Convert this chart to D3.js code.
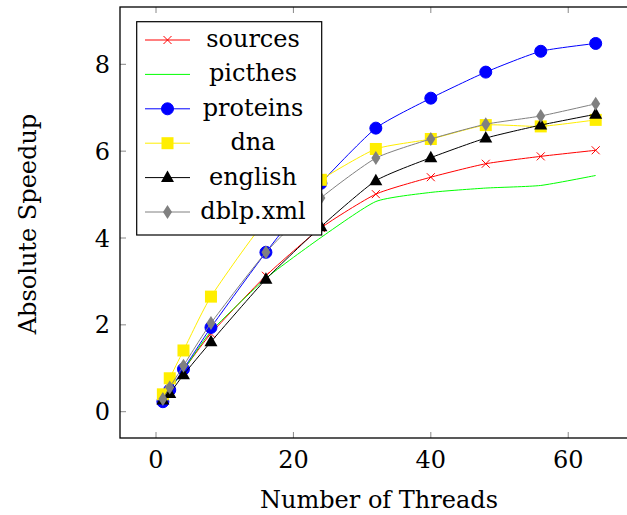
<!DOCTYPE html>
<html><head><meta charset="utf-8">
<script src="https://cdn.jsdelivr.net/npm/d3@7"></script>
<style>body{margin:0;background:#fff}svg{display:block}text{font-family:"DejaVu Serif",serif}</style>
</head><body><svg id="c" width="627" height="515"></svg>
<script>
const threads = [1,2,4,8,16,24,32,40,48,56,64];
const sources  = [0.25,0.50,0.96,1.80,3.13,4.23,5.01,5.40,5.71,5.88,6.02];
const picthes  = [0.26,0.50,0.95,1.85,3.07,4.01,4.84,5.05,5.15,5.21,5.44];
const proteins = [0.23,0.50,0.98,1.94,3.67,5.26,6.53,7.22,7.82,8.30,8.48];
const dna      = [0.40,0.77,1.41,2.65,4.40,5.34,6.05,6.28,6.60,6.57,6.72];
const english  = [0.27,0.42,0.85,1.61,3.05,4.26,5.32,5.85,6.30,6.60,6.85];
const dblp     = [0.29,0.56,1.06,2.04,3.67,4.92,5.84,6.28,6.62,6.81,7.09];
const seriesNames = ["sources","picthes","proteins","dna","english","dblp.xml"];
const seriesData = [sources,picthes,proteins,dna,english,dblp];
const seriesColors = ["#ff0000","#00ff00","#0000ff","#ffee00","#000000","#808080"];
const seriesMarkers = ["x","none","circle","square","triangle","diamond"];
const xTicks = [0,20,40,60];
const yTicks = [0,2,4,6,8];
const xLabel = "Number of Threads";
const yLabel = "Absolute Speedup";

const svg = d3.select("#c");
const L=120, R=640, T=7, B=438;
const x = d3.scaleLinear().domain([0,64]).range([156,595.7]);
const y = d3.scaleLinear().domain([0,8]).range([411.7,64.3]);

// ticks inward (bottom & top, left)
const g = svg.append("g");
const tickCol="#888";
g.selectAll(".xb").data(xTicks).join("line").attr("x1",d=>x(d)).attr("x2",d=>x(d)).attr("y1",B).attr("y2",B-6).attr("stroke",tickCol);
g.selectAll(".xt").data(xTicks).join("line").attr("x1",d=>x(d)).attr("x2",d=>x(d)).attr("y1",T).attr("y2",T+6).attr("stroke",tickCol);
g.selectAll(".yl").data(yTicks).join("line").attr("x1",L).attr("x2",L+6).attr("y1",d=>y(d)).attr("y2",d=>y(d)).attr("stroke",tickCol);
g.selectAll(".xl").data(xTicks).join("text").attr("x",d=>x(d)).attr("y",468).attr("text-anchor","middle").attr("font-size",24).text(d=>d);
g.selectAll(".ylb").data(yTicks).join("text").attr("x",110).attr("y",d=>y(d)+8.5).attr("text-anchor","end").attr("font-size",24).text(d=>d);
svg.append("text").attr("x",379).attr("y",508).attr("text-anchor","middle").attr("font-size",24).text(xLabel);
svg.append("text").attr("transform","translate(36,224) rotate(-90)").attr("text-anchor","middle").attr("font-size",24).text(yLabel);

const line = d3.line().x((d,i)=>x(threads[i])).y(d=>y(d)).curve(d3.curveCardinal.tension(0.45));
const plot = svg.append("g");

function marker(sel, type, color){
  if(type==="circle") sel.append("circle").attr("r",6).attr("fill",color).attr("stroke",color);
  else if(type==="square") sel.append("rect").attr("x",-6).attr("y",-6).attr("width",12).attr("height",12).attr("fill",color);
  else if(type==="triangle") sel.append("path").attr("d","M0,-7L6.5,4.5L-6.5,4.5Z").attr("fill",color);
  else if(type==="diamond") sel.append("path").attr("d","M0,-7L4.5,0L0,7L-4.5,0Z").attr("fill",color);
  else if(type==="x") sel.append("path").attr("d","M-4,-4L4,4M-4,4L4,-4").attr("stroke",color).attr("stroke-width",1);
}

seriesData.forEach((s,k)=>{
  plot.append("path").attr("d",line(s)).attr("fill","none").attr("stroke",seriesColors[k]).attr("stroke-width",1);
  if(seriesMarkers[k]!=="none"){
    s.forEach((v,i)=>{
      const m = plot.append("g").attr("transform",`translate(${x(threads[i])},${y(v)})`);
      marker(m, seriesMarkers[k], seriesColors[k]);
    });
  }
});

// axis frame
svg.append("rect").attr("x",L).attr("y",T).attr("width",R-L).attr("height",B-T).attr("fill","none").attr("stroke","#000").attr("stroke-width",1.3);

// legend
const lg = svg.append("g");
lg.append("rect").attr("x",136.7).attr("y",21.7).attr("width",185).attr("height",213.3).attr("fill","#fff").attr("stroke","#000").attr("stroke-width",1.2);
seriesNames.forEach((n,k)=>{
  const yy = 40 + k*34.4;
  lg.append("line").attr("x1",145).attr("x2",190).attr("y1",yy).attr("y2",yy).attr("stroke",seriesColors[k]);
  if(seriesMarkers[k]!=="none"){
    const m = lg.append("g").attr("transform",`translate(167.5,${yy})`);
    marker(m, seriesMarkers[k], seriesColors[k]);
  }
  lg.append("text").attr("x",253).attr("y",yy+7).attr("text-anchor","middle").attr("font-size",24).text(n);
});
</script></body></html>
